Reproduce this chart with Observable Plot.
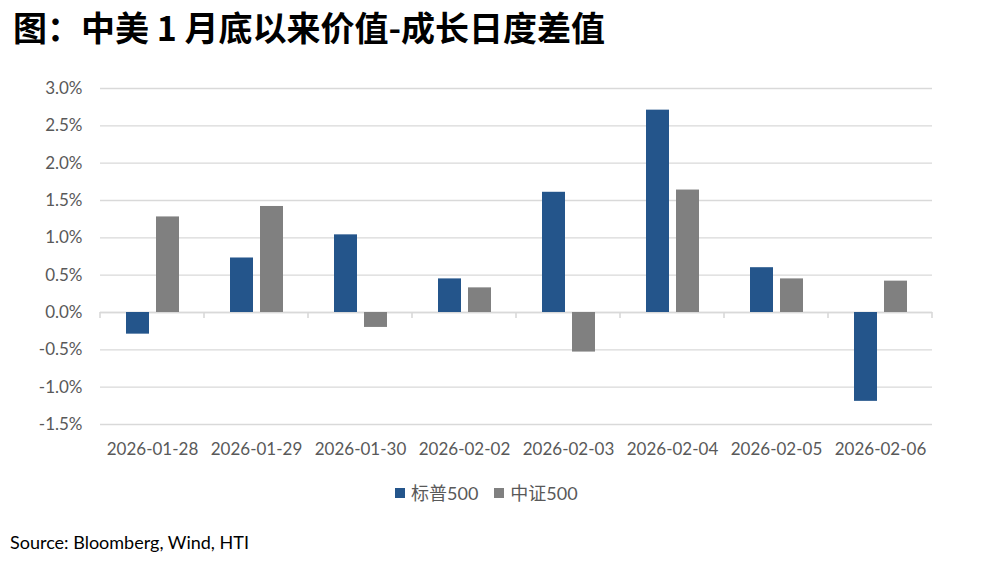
<!DOCTYPE html>
<html>
<head>
<meta charset="utf-8">
<script src="https://cdn.jsdelivr.net/npm/d3@7"></script>
<script src="https://cdn.jsdelivr.net/npm/@observablehq/plot@0.6"></script>
<style>
  html, body { margin: 0; padding: 0; background: #fff; }
  #wrap { position: relative; width: 1002px; height: 567px; overflow: hidden; }
  #title { position: absolute; left: 13px; top: 9px; font-family: "Noto Sans CJK SC", sans-serif; font-weight: 700; font-size: 34px; line-height: 36px; color: #000; white-space: nowrap; }
  #chart { position: absolute; left: 0; top: 60px; }
  #legend { position: absolute; left: 395px; top: 482px; font-family: "Lato", "Noto Sans CJK SC", sans-serif; font-size: 18px; line-height: 22px; color: #595959; white-space: nowrap; display: flex; align-items: center; }
  #legend .sw { display: inline-block; width: 10px; height: 10px; margin-right: 6px; }
  #legend .item { display: inline-flex; align-items: center; margin-right: 16px; }
  #source { position: absolute; left: 10px; top: 531px; font-family: "Lato", sans-serif; font-size: 18px; line-height: 22px; color: #000; white-space: nowrap; }
</style>
</head>
<body>
<div id="wrap">
  <div id="title">图：中美 1 月底以来价值-成长日度差值</div>
  <div id="chart"></div>
  <div id="legend"></div>
  <div id="source">Source: Bloomberg, Wind, HTI</div>
</div>
<script>
const dates = ["2026-01-28","2026-01-29","2026-01-30","2026-02-02","2026-02-03","2026-02-04","2026-02-05","2026-02-06"];
const seriesNames = ["标普500","中证500"];
const spx500 = [-0.29, 0.73, 1.04, 0.45, 1.61, 2.71, 0.60, -1.19];
const csi500 = [1.28, 1.42, -0.20, 0.33, -0.53, 1.64, 0.45, 0.42];
const yTicks = [-1.5, -1.0, -0.5, 0.0, 0.5, 1.0, 1.5, 2.0, 2.5, 3.0];
const colors = ["#24558B", "#808080"];

const data = [];
dates.forEach((d, i) => {
  data.push({date: d, series: seriesNames[0], value: spx500[i]});
  data.push({date: d, series: seriesNames[1], value: csi500[i]});
});

const fmt = v => v.toFixed(1) + "%";

const chart = Plot.plot({
  width: 1002,
  height: 420,
  marginLeft: 97,
  marginRight: 67,
  marginTop: 28,
  marginBottom: 56,
  style: {fontFamily: "Lato, sans-serif", fontSize: "17px", color: "#595959", background: "#fff"},
  fx: {domain: dates, padding: 0, label: null},
  x: {domain: seriesNames, axis: null, paddingInner: 0.25, paddingOuter: 0.83},
  y: {domain: [-1.5, 3.0], label: null},
  color: {domain: seriesNames, range: colors},
  marks: [
    Plot.gridY(yTicks, {stroke: "#D9D9D9", strokeOpacity: 1, strokeWidth: 1.3}),
    Plot.ruleY([0], {stroke: "#D9D9D9", strokeOpacity: 1, strokeWidth: 1.6}),
    Plot.barY(data, {fx: "date", x: "series", y: "value", fill: "series"}),
    Plot.axisY({ticks: yTicks, tickFormat: fmt, tickSize: 0, tickPadding: 18, label: null, fill: "#595959"}),
    Plot.axisFx({anchor: "bottom", tickSize: 0, tickPadding: 18, label: null, fill: "#595959"})
  ]
});
document.getElementById("chart").appendChild(chart);

// category boundary ticks on the zero line, from Plot's own scales
const fxS = chart.scale("fx");
const yS = chart.scale("y");
const y0 = yS.apply(0);
const bw = fxS.bandwidth;
const bounds = dates.map(d => fxS.apply(d)).concat([fxS.apply(dates[dates.length - 1]) + bw]);
d3.select(chart).append("g")
  .selectAll("line").data(bounds).join("line")
  .attr("x1", d => d).attr("x2", d => d)
  .attr("y1", y0).attr("y2", y0 + 6)
  .attr("stroke", "#D9D9D9").attr("stroke-width", 1.6);

// legend
const lg = d3.select("#legend");
seriesNames.forEach((s, i) => {
  const it = lg.append("span").attr("class", "item");
  it.append("span").attr("class", "sw").style("background", colors[i]);
  it.append("span").text(s);
});
</script>
</body>
</html>
